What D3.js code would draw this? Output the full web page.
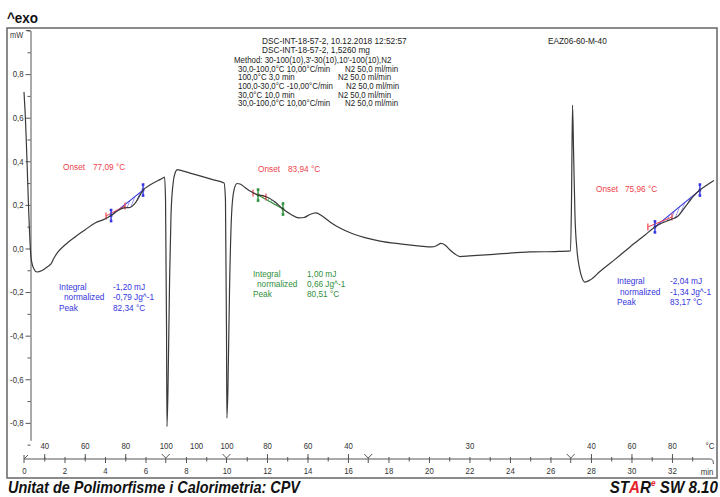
<!DOCTYPE html>
<html><head><meta charset="utf-8">
<script src="https://cdn.jsdelivr.net/npm/d3@7"></script>
<style>body{margin:0;background:#fff}svg{display:block}</style>
</head><body><svg id="c" width="720" height="497"></svg>
<script>
// ---------- DATA ----------
const timeMin = [0.00,0.05,0.35,0.49,0.64,0.89,1.14,1.33,1.48,1.68,
 2.02,2.52,3.01,3.51,4.00,4.30,4.64,4.94,5.23,5.53,
 5.88,6.22,6.62,6.86,6.94,6.99,7.04,7.06,7.11,7.19,
 7.26,7.36,7.46,7.58,7.75,8.20,8.69,9.28,9.88,9.95,
 10.00,10.02,10.07,10.15,10.25,10.37,10.52,10.67,10.91,11.21,
 11.56,11.80,12.05,12.40,12.79,13.19,13.58,13.83,14.12,14.42,
 14.72,15.11,15.60,16.20,16.84,17.58,18.57,19.56,20.15,20.40,
 20.59,20.79,21.04,21.28,21.53,22.02,23.01,24.00,24.99,26.22,
 26.99,27.04,27.09,27.14,27.21,27.31,27.43,27.56,27.70,27.95,
 28.44,29.19,29.93,30.67,31.16,31.51,31.90,32.30,32.69,33.09,
 33.38,33.73,34.07];
const heatFlow = [0.718,0.635,-0.044,-0.094,-0.108,-0.101,-0.085,-0.071,-0.044,-0.016,
 0.016,0.053,0.085,0.117,0.135,0.151,0.174,0.186,0.188,0.213,
 0.268,0.291,0.312,0.323,0.328,0.222,-0.374,-0.817,-0.649,-0.144,
 0.154,0.296,0.346,0.362,0.358,0.346,0.333,0.317,0.300,0.222,
 -0.374,-0.778,-0.649,-0.190,0.154,0.268,0.298,0.296,0.280,0.261,
 0.245,0.243,0.234,0.213,0.181,0.156,0.140,0.142,0.156,0.163,
 0.149,0.122,0.094,0.069,0.050,0.034,0.021,0.011,0.007,0.014,
 0.023,0.016,-0.007,-0.025,-0.037,-0.034,-0.028,-0.021,-0.016,-0.014,
 -0.011,0.222,0.658,0.452,0.154,-0.007,-0.089,-0.135,-0.154,-0.145,
 -0.106,-0.050,0.007,0.062,0.099,0.117,0.131,0.149,0.195,0.243,
 0.268,0.291,0.312];

const yTickValues = [-0.8,-0.6,-0.4,-0.2,0,0.2,0.4,0.6,0.8];
const yTickLabels = ["-0,8","-0,6","-0,4","-0,2","0,0","0,2","0,4","0,6","0,8"];
const yMinorValues = [-0.9,-0.7,-0.5,-0.3,-0.1,0.1,0.3,0.5,0.7,0.9,1.0];
const minuteLabelTicks = [0,2,4,6,8,10,12,14,16,18,20,22,24,26,28,30,32];
const minuteSmallTicks = [1,3,5,9,11,13,15,19,21,23,25,29,31,33];
const tempLabelTimes = [1,3,5,7,8.5,10,12,14,16,22,28,30,32];
const tempLabels = ["40","60","80","100","100","100","80","60","40","30","40","60","80"];
const tempTickTimes = [1,3,5,12,14,16,28,30,32];
const segmentBounds = [7,10,17,27];

const headerLeft = ["30,0-100,0°C 10,00°C/min","100,0°C 3,0 min","100,0-30,0°C -10,00°C/min","30,0°C 10,0 min","30,0-100,0°C 10,00°C/min"];
const headerGas = ["N2 50,0 ml/min","N2 50,0 ml/min","N2 50,0 ml/min","N2 50,0 ml/min","N2 50,0 ml/min"];

// peak evaluations
const evalStart = [4.30, 11.56, 31.16];
const evalEnd = [5.88, 12.79, 33.38];
const onsetValues = ["77,09 °C","83,94 °C","75,96 °C"];
const integralValues = ["-1,20 mJ","1,00 mJ","-2,04 mJ"];
const normalizedValues = ["-0,79 Jg^-1","0,66 Jg^-1","-1,34 Jg^-1"];
const peakValues = ["82,34 °C","80,51 °C","83,17 °C"];
const onsetLineT = [[4.05,4.99],[11.31,11.95],[30.81,32.0]];
const onsetLineV = [[0.149,0.195],[0.255,0.236],[0.099,0.144]];

// ---------- LAYOUT ----------
const RED="#f0434b", BLUE="#3535e0", GREEN="#2f8f3a";
const evalColor=[BLUE,GREEN,BLUE];
const textLayout=[
  {ox:63,oy:170,ovx:93, lx:59,nx:64,vx:113,by:[290,300,310.5]},
  {ox:258,oy:172,ovx:288, lx:253,nx:257,vx:307,by:[276.5,286.5,297]},
  {ox:596,oy:192,ovx:625, lx:617,nx:620,vx:670,by:[283.5,294.5,305]}
];

const svg=d3.select("#c");
const FONT="'Liberation Sans', Arial, sans-serif";
function T(x,y,s,o={}){
  return svg.append("text").attr("transform",`translate(${x},${y}) scale(${o.sx??0.87},1)`)
   .attr("font-size",o.size??9.5).attr("font-family",FONT).attr("fill",o.fill??"#222")
   .attr("text-anchor",o.anchor??"start").attr("font-weight",o.weight??"normal")
   .attr("font-style",o.style??"normal").text(s);
}

const x=d3.scaleLinear().domain([0,34.2]).range([24,716.5]);
const y=d3.scaleLinear().domain([-0.88,1.0]).range([440.3,30.5]);

// frame
svg.append("rect").attr("x",7).attr("y",28).attr("width",710).attr("height",450)
  .attr("fill","none").attr("stroke","#6e6e6e").attr("stroke-width",1.6);

// header
T(7,23,"^exo",{size:15,weight:"bold",sx:0.9,fill:"#111"});
T(10,38,"mW",{size:8.5,fill:"#333"});
T(262,43.5,"DSC-INT-18-57-2, 10.12.2018 12:52:57",{size:9,sx:0.92});
T(262,52.5,"DSC-INT-18-57-2, 1,5260 mg",{size:9,sx:0.92});
T(234,63,"Method: 30-100(10),3'-30(10),10'-100(10),N2",{size:8.5,sx:0.93});
const hy=[71.8,80.4,89,97.6,106.2], gx=[345,338,346,338,345];
headerLeft.forEach((s,i)=>{T(238,hy[i],s,{size:8.5,sx:0.93});T(gx[i],hy[i],headerGas[i],{size:8.5,sx:0.93});});
T(548,43.5,"EAZ06-60-M-40",{size:9,sx:0.92});

// y axis
const yAx=svg.append("g").attr("transform","translate(30.5,0)")
  .call(d3.axisLeft(y).tickValues(yTickValues).tickFormat((d,i)=>yTickLabels[i]).tickSize(5).tickSizeOuter(0).tickPadding(3));
yAx.select(".domain").attr("stroke","#555");
yAx.selectAll(".tick line").attr("stroke","#555");
yAx.selectAll("text").attr("font-size",9).attr("font-family",FONT).attr("fill","#333").attr("transform","scale(0.87,1)");
const yMin=svg.append("g").attr("transform","translate(30.5,0)")
  .call(d3.axisLeft(y).tickValues(yMinorValues).tickFormat("").tickSize(3).tickSizeOuter(0));
yMin.select(".domain").remove();
yMin.selectAll("line").attr("stroke","#555");
svg.append("line").attr("x1",26).attr("x2",30.5).attr("y1",y(1.0)).attr("y2",y(1.0)).attr("stroke","#555");

// bottom axis
const AXY=459;
const bx=svg.append("g").attr("transform",`translate(0,${AXY})`)
  .call(d3.axisBottom(x).tickValues(minuteLabelTicks).tickSize(4).tickSizeOuter(0).tickPadding(5));
bx.select(".domain").attr("stroke","#555").attr("d",`M${x(0)},0H${x(33.9)}`);
bx.selectAll(".tick line").attr("stroke","#555").attr("y1",-2);
bx.selectAll("text").attr("font-size",9).attr("font-family",FONT).attr("fill","#333").attr("transform","scale(0.87,1)");
bx.selectAll(".tick").filter(d=>segmentBounds.includes(d)||d===0).select("line").remove();
const bs=svg.append("g").attr("transform",`translate(0,${AXY})`)
  .call(d3.axisBottom(x).tickValues(minuteSmallTicks).tickSize(2.5).tickFormat("").tickSizeOuter(0));
bs.select(".domain").remove();
bs.selectAll("line").attr("stroke","#555").attr("y1",-2);
const tt=svg.append("g").attr("transform",`translate(0,${AXY})`)
  .call(d3.axisTop(x).tickValues(tempTickTimes).tickSize(5).tickFormat("").tickSizeOuter(0));
tt.select(".domain").remove();
tt.selectAll("line").attr("stroke","#555");
const tl=svg.append("g").attr("transform",`translate(0,${AXY})`)
  .call(d3.axisTop(x).tickValues(tempLabelTimes).tickFormat((d,i)=>tempLabels[i]).tickSize(0).tickPadding(10));
tl.select(".domain").remove();
tl.selectAll("text").attr("font-size",9).attr("font-family",FONT).attr("fill","#333").attr("transform","scale(0.87,1)");
segmentBounds.forEach(t=>{
  const px=x(t);
  svg.append("path").attr("d",`M${px-4},${AXY-5}L${px},${AXY-1}L${px+4},${AXY-5}M${px},${AXY-1}V${AXY+4}`)
    .attr("stroke","#555").attr("fill","none");
});
svg.append("path").attr("d",`M${x(0)},${AXY-4}V${AXY+4}M${x(0)},${AXY}L${x(0)+4},${AXY-4}`).attr("stroke","#555").attr("fill","none");
svg.append("path").attr("d",`M${x(33.9)},${AXY}q3,0 3,5`).attr("stroke","#555").attr("fill","none");
T(710,449,"°C",{size:9,fill:"#333",anchor:"middle"});
T(707,474.5,"min",{size:9,fill:"#333",anchor:"middle"});

// curve
const pts=timeMin.map((t,i)=>[t,heatFlow[i]]);
const line=d3.line().x(d=>x(d[0])).y(d=>y(d[1])).curve(d3.curveMonotoneX);
function vAt(t){
  for(let i=1;i<pts.length;i++){ if(pts[i][0]>=t){const a=pts[i-1],b=pts[i];return a[1]+(b[1]-a[1])*(t-a[0])/(b[0]-a[0]);} }
  return pts[pts.length-1][1];
}

const defs=svg.append("defs");
[["hB",BLUE],["hG",GREEN]].forEach(([id,c])=>{
  const p=defs.append("pattern").attr("id",id).attr("patternUnits","userSpaceOnUse")
   .attr("width",3.2).attr("height",6).attr("patternTransform","rotate(22)");
  p.append("line").attr("x1",0).attr("y1",0).attr("x2",0).attr("y2",6).attr("stroke",c).attr("stroke-width",0.9);
});

evalStart.forEach((t0,k)=>{
  const t1=evalEnd[k], c=evalColor[k];
  const v0=vAt(t0), v1=vAt(t1);
  const inner=pts.filter(p=>p[0]>t0&&p[0]<t1);
  const poly=[[t0,v0],...inner,[t1,v1]];
  const area=poly.map(p=>[x(p[0]),y(p[1])]);
  svg.append("path").attr("d","M"+area.map(p=>p.join(",")).join("L")+`L${x(t0)},${y(v0)}Z`)
    .attr("fill",`url(#${k===1?"hG":"hB"})`).attr("stroke","none");
  svg.append("line").attr("x1",x(t0)).attr("y1",y(v0)).attr("x2",x(t1)).attr("y2",y(v1))
    .attr("stroke",c).attr("stroke-width",1.1);
  svg.append("line").attr("x1",x(onsetLineT[k][0])).attr("y1",y(onsetLineV[k][0]))
    .attr("x2",x(onsetLineT[k][1])).attr("y2",y(onsetLineV[k][1])).attr("stroke",RED).attr("stroke-width",1);
  onsetLineT[k].forEach((t,j)=>{
    const px=x(t), py=y(onsetLineV[k][j]);
    svg.append("line").attr("x1",px).attr("x2",px).attr("y1",py-3.5).attr("y2",py+3.5).attr("stroke",RED).attr("stroke-width",1.2);
  });
  [[t0,v0],[t1,v1]].forEach(([t,v])=>{
    const px=x(t),py=y(v);
    svg.append("line").attr("x1",px).attr("x2",px).attr("y1",py-5.5).attr("y2",py+5.5).attr("stroke",c).attr("stroke-width",1.4);
    [py-5.5,py,py+5.5].forEach(yy=>svg.append("rect").attr("x",px-1.3).attr("y",yy-1.3).attr("width",2.6).attr("height",2.6).attr("fill",c));
  });
  const L=textLayout[k];
  T(L.ox,L.oy,"Onset",{fill:RED});
  T(L.ovx,L.oy,onsetValues[k],{fill:RED});
  T(L.lx,L.by[0],"Integral",{fill:c});
  T(L.vx,L.by[0],integralValues[k],{fill:c});
  T(L.nx,L.by[1],"normalized",{fill:c});
  T(L.vx,L.by[1],normalizedValues[k],{fill:c});
  T(L.lx,L.by[2],"Peak",{fill:c});
  T(L.vx,L.by[2],peakValues[k],{fill:c});
});

svg.append("path").attr("d",line(pts)).attr("fill","none").attr("stroke","#3a3a3a").attr("stroke-width",1.2);

// footer
T(8,493,"Unitat de Polimorfisme i Calorimetria: CPV",{size:16.5,weight:"bold",style:"italic",sx:0.875,fill:"#111"});
const ft=svg.append("text").attr("transform","translate(718,493) scale(0.92,1)").attr("text-anchor","end")
  .attr("font-size",16.5).attr("font-weight","bold").attr("font-style","italic").attr("font-family",FONT).attr("fill","#111");
ft.append("tspan").text("ST");
ft.append("tspan").attr("fill","#e8202a").text("A");
ft.append("tspan").text("R");
ft.append("tspan").attr("fill","#e8202a").attr("font-size",9).attr("dy",-7).text("e");
ft.append("tspan").attr("dy",7).text(" SW 8.10");
</script></body></html>
